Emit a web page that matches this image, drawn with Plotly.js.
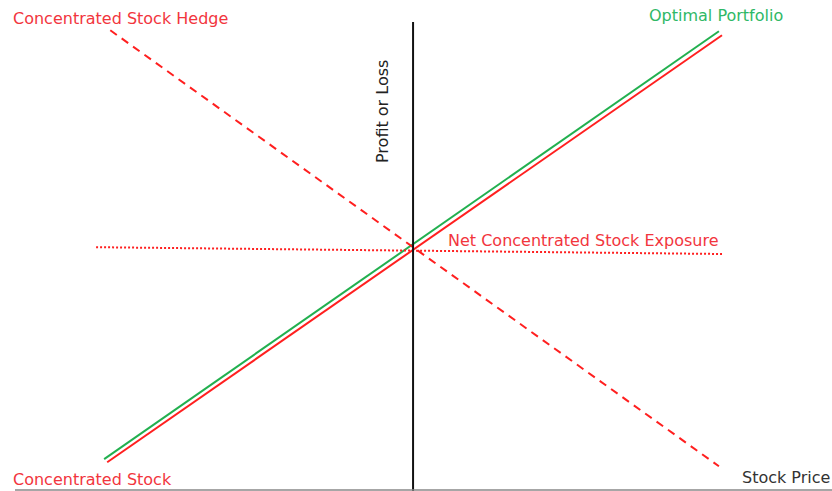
<!DOCTYPE html>
<html>
<head>
<meta charset="utf-8">
<script src="https://cdn.plot.ly/plotly-3.0.1.min.js"></script>
<style>html,body{margin:0;padding:0;background:#fff;}#chart{width:832px;height:491px;}</style>
</head>
<body>
<div id="chart"></div>
<script>
// Data (stock price relative to strike, profit/loss units)
const stockX = [-9.9, 10];
const stockY = [-6.93, 6.89];
const optimalX = [-10, 9.9];
const optimalY = [-6.83, 7.02];
const hedgeX = [-9.8, 9.9];
const hedgeY = [7.05, -7.06];
const netX = [-10.26, 10];
const netY = [0.03, -0.19];

const labels = {
  hedge: "Concentrated Stock Hedge",
  optimal: "Optimal Portfolio",
  net: "Net Concentrated Stock Exposure",
  stock: "Concentrated Stock",
  xTitle: "Stock Price",
  yTitle: "Profit or Loss"
};

const RED = "#ff1f1f";
const RED_TXT = "#f2353d";
const GREEN = "#22b04f";
const GREEN_TXT = "#2fb866";
const FONT = "DejaVu Sans";
const FS = 16;

const traces = [
  {x: optimalX, y: optimalY, mode: "lines", line: {color: GREEN, width: 2}, hoverinfo: "skip"},
  {x: stockX, y: stockY, mode: "lines", line: {color: RED, width: 2}, hoverinfo: "skip"},
  {x: hedgeX, y: hedgeY, mode: "lines", line: {color: RED, width: 2, dash: "8px,6px"}, hoverinfo: "skip"},
  {x: netX, y: netY, mode: "lines", line: {color: RED, width: 2, dash: "2px,2px"}, hoverinfo: "skip"}
];

const W = 832, H = 491;
const px = v => v / W;
const py = v => 1 - v / H;

const layout = {
  width: W, height: H,
  margin: {l: 0, r: 0, t: 0, b: 0},
  paper_bgcolor: "#fff", plot_bgcolor: "#fff",
  showlegend: false,
  xaxis: {range: [-13.37, 13.56], visible: false, fixedrange: true},
  yaxis: {range: [-7.86, 8.03], visible: false, fixedrange: true},
  shapes: [
    {type: "line", xref: "x", yref: "paper", x0: 0, x1: 0, y0: 0, y1: py(22), line: {color: "#111", width: 2}},
    {type: "line", xref: "paper", yref: "paper", x0: px(15), x1: px(832), y0: py(490), y1: py(490), line: {color: "#888", width: 1.5}}
  ],
  annotations: [
    {text: labels.hedge, xref: "paper", yref: "paper", x: px(11), y: py(18), xanchor: "left", yanchor: "middle", showarrow: false, font: {family: FONT, size: FS, color: RED_TXT}},
    {text: labels.optimal, xref: "paper", yref: "paper", x: px(785), y: py(16), xanchor: "right", yanchor: "middle", showarrow: false, font: {family: FONT, size: FS, color: GREEN_TXT}},
    {text: labels.net, xref: "paper", yref: "paper", x: px(721), y: py(240), xanchor: "right", yanchor: "middle", showarrow: false, font: {family: FONT, size: FS, color: RED_TXT}},
    {text: labels.stock, xref: "paper", yref: "paper", x: px(11), y: py(479), xanchor: "left", yanchor: "middle", showarrow: false, font: {family: FONT, size: FS, color: RED_TXT}},
    {text: labels.xTitle, xref: "paper", yref: "paper", x: px(832), y: py(477), xanchor: "right", yanchor: "middle", showarrow: false, font: {family: FONT, size: FS, color: "#333"}},
    {text: labels.yTitle, xref: "paper", yref: "paper", x: px(382), y: py(112), xanchor: "center", yanchor: "middle", textangle: -90, showarrow: false, font: {family: FONT, size: FS, color: "#222"}}
  ]
};

Plotly.newPlot("chart", traces, layout, {displayModeBar: false, staticPlot: true});
</script>
</body>
</html>
